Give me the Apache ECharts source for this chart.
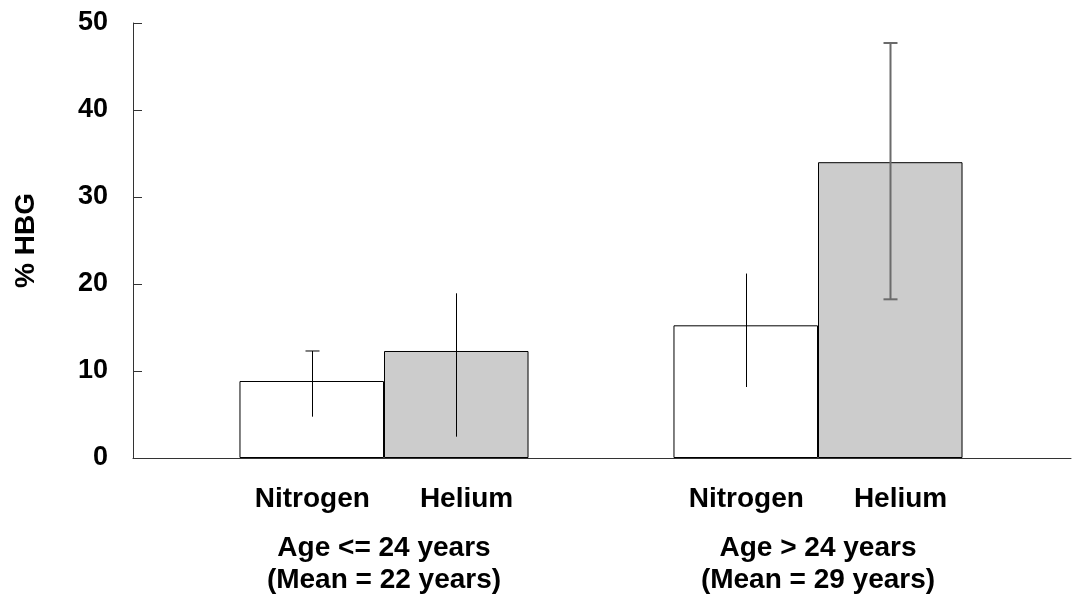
<!DOCTYPE html>
<html>
<head>
<meta charset="utf-8">
<title>% HBG by gas and age group</title>
<script src="https://cdn.jsdelivr.net/npm/echarts@6/dist/echarts.min.js"></script>
<style>
  html, body { margin: 0; padding: 0; background: #ffffff; }
  #chart { width: 1075px; height: 598px; }
</style>
</head>
<body>
<div id="chart"></div>
<script>
// Age groups and their labels
const groupLabels = ['Age <= 24 years', 'Age > 24 years'];
const meanLabels = ['(Mean = 22 years)', '(Mean = 29 years)'];
const gasNames = ['Nitrogen', 'Helium'];

// Mean % HBG per age group
const nitrogen = [8.85, 15.25];
const helium = [12.3, 34.0];

// Error bar extents [low, high] per age group
const nitrogenErr = [[4.75, 12.3], [8.16, 21.2]];
const heliumErr = [[2.45, 18.93], [18.24, 47.7]];

// Value axis range
const yMin = 0;
const yMax = 50;
const yStep = 10;

const FONT = "'Liberation Sans', Arial, Helvetica, sans-serif";
const CATEGORY_GAP = 0.334;

// Which ends of each error bar carry a cap, and the line style per bar
const nitrogenCaps = [['high'], []];
const heliumCaps = [[], ['low', 'high']];
const nitrogenErrStyle = [{ stroke: '#000', lineWidth: 1 }, { stroke: '#000', lineWidth: 1 }];
const heliumErrStyle = [{ stroke: '#000', lineWidth: 1 }, { stroke: '#6b6b6b', lineWidth: 2 }];

function errorSeries(name, errs, side, caps, styles) {
  return {
    name: name + ' error',
    type: 'custom',
    xAxisIndex: 1,
    yAxisIndex: 1,
    z: 5,
    data: errs.map((e, i) => [i, e[0], e[1]]),
    renderItem: function (params, api) {
      const i = api.value(0);
      const band = api.size([1, 0])[0];
      const barW = band * (1 - CATEGORY_GAP) / 2;
      const center = api.coord([i, 0])[0] + side * barW / 2;
      const x = Math.round(center) + 0.5;
      const lo = api.coord([i, api.value(1)])[1];
      const hi = api.coord([i, api.value(2)])[1];
      const style = styles[i];
      const children = [{
        type: 'line',
        shape: { x1: x, y1: lo, x2: x, y2: hi },
        style: { stroke: style.stroke, lineWidth: style.lineWidth }
      }];
      const capHalf = 7;
      caps[i].forEach(function (end) {
        const y = end === 'high' ? hi : lo;
        children.push({
          type: 'line',
          shape: { x1: x - capHalf, y1: y, x2: x + capHalf, y2: y },
          style: { stroke: style.stroke, lineWidth: style.lineWidth }
        });
      });
      return { type: 'group', children: children };
    }
  };
}

const chart = echarts.init(document.getElementById('chart'), null, { renderer: 'canvas' });

const labelRich = {
  n: { fontFamily: FONT, fontSize: 28, fontWeight: 'bold', color: '#000', lineHeight: 32 },
  g: { width: 50, lineHeight: 32 },
  sp: { lineHeight: 17, fontSize: 4 },
  a: { fontFamily: FONT, fontSize: 28, fontWeight: 'bold', color: '#000', lineHeight: 32 }
};

chart.setOption({
  animation: false,
  backgroundColor: '#ffffff',
  grid: [
    // frame: axis lines, ticks and value labels
    { left: 133, right: 4, top: 23, bottom: 140, containLabel: false },
    // bars and group labels
    { left: 167, right: 40, top: 23, bottom: 140, containLabel: false }
  ],
  xAxis: [
    {
      gridIndex: 0,
      type: 'category',
      data: groupLabels,
      axisLine: { show: true, lineStyle: { color: '#333', width: 1 } },
      axisTick: { show: false },
      axisLabel: { show: false },
      splitLine: { show: false }
    },
    {
      gridIndex: 1,
      type: 'category',
      data: groupLabels,
      axisLine: { show: false },
      axisTick: { show: false },
      splitLine: { show: false },
      axisLabel: {
        show: true,
        interval: 0,
        margin: 25,
        formatter: function (value, index) {
          return '{n|' + gasNames[0] + '}{g| }{n|' + gasNames[1] + '}\n{sp| }\n{a|' +
            groupLabels[index] + '}\n{a|' + meanLabels[index] + '}';
        },
        rich: labelRich
      }
    }
  ],
  yAxis: [
    {
      gridIndex: 0,
      type: 'value',
      min: yMin,
      max: yMax,
      interval: yStep,
      name: '% HBG',
      nameLocation: 'middle',
      nameRotate: 90,
      nameGap: 93,
      nameTextStyle: { fontFamily: FONT, fontSize: 28, fontWeight: 'bold', color: '#000' },
      axisLine: { show: true, lineStyle: { color: '#333', width: 1 } },
      axisTick: { show: true, inside: true, length: 9, lineStyle: { color: '#333', width: 1 } },
      axisLabel: { fontFamily: FONT, fontSize: 27, fontWeight: 'bold', color: '#000', margin: 25 },
      splitLine: { show: false }
    },
    {
      gridIndex: 1,
      type: 'value',
      min: yMin,
      max: yMax,
      interval: yStep,
      show: false
    }
  ],
  series: [
    {
      name: gasNames[0],
      type: 'bar',
      xAxisIndex: 1,
      yAxisIndex: 1,
      data: nitrogen,
      barGap: '0%',
      barCategoryGap: (CATEGORY_GAP * 100) + '%',
      itemStyle: { color: '#ffffff', borderColor: '#000', borderWidth: 1 }
    },
    {
      name: gasNames[1],
      type: 'bar',
      xAxisIndex: 1,
      yAxisIndex: 1,
      data: helium,
      barGap: '0%',
      barCategoryGap: (CATEGORY_GAP * 100) + '%',
      itemStyle: { color: '#cccccc', borderColor: '#000', borderWidth: 1 }
    },
    errorSeries(gasNames[0], nitrogenErr, -1, nitrogenCaps, nitrogenErrStyle),
    errorSeries(gasNames[1], heliumErr, 1, heliumCaps, heliumErrStyle)
  ]
});
</script>
</body>
</html>
